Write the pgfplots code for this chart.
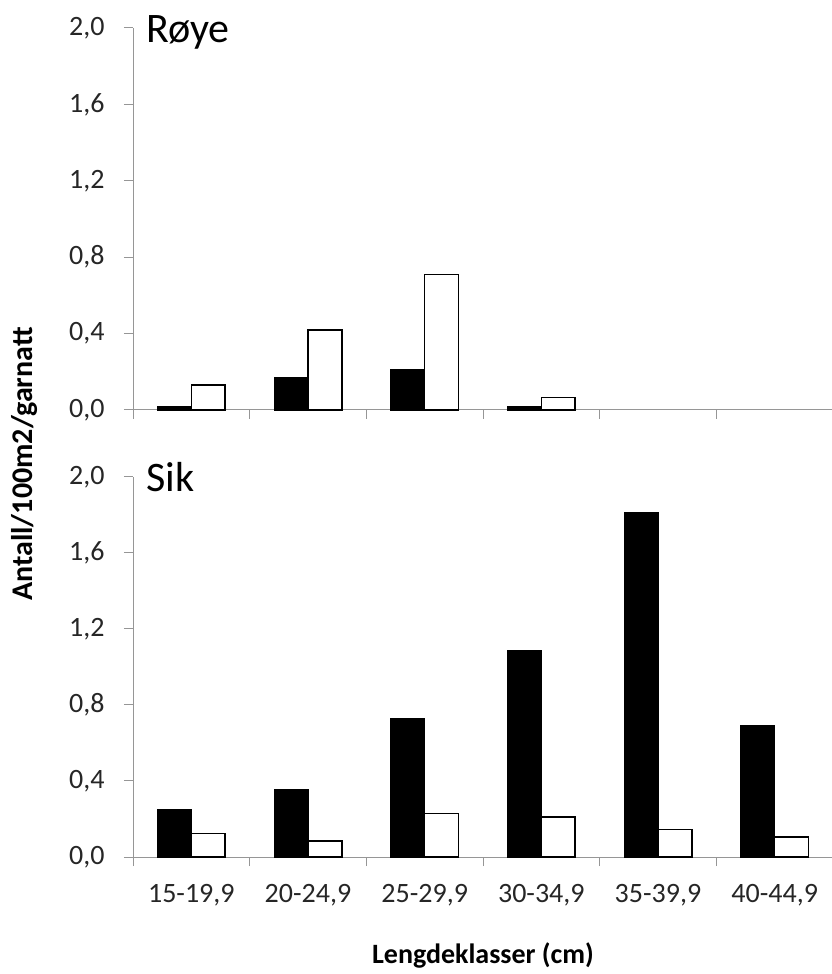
\documentclass[border=0pt]{standalone}
\usepackage{pgfplots}
\pgfplotsset{compat=1.18}
\usepackage{fontspec}
\setmainfont{Carlito}

\definecolor{axgray}{RGB}{150,150,150}

\pgfplotsset{
  panel/.style={
    width=700pt, scale only axis,
    xmin=-0.5, xmax=5.5, ymin=0, ymax=2,
    axis x line*=bottom, axis y line*=left,
    axis line style={axgray, line width=1pt, -},
    tick align=outside, major tick length=9pt,
    tick style={axgray, line width=1pt},
    ytick={0,0.4,0.8,1.2,1.6,2.0},
    xtick={-0.5,0.5,1.5,2.5,3.5,4.5,5.5}, xticklabels={},
    yticklabel style={font=\fontsize{28}{30}\selectfont, text=black!85, xshift=-16pt},
    /pgf/number format/.cd, use comma, fixed, fixed zerofill, precision=1, assume math mode=true,
    /pgfplots/.cd,
    ybar, bar width=0.29, clip=false,
  },
  blk/.style={fill=black, draw=black, line width=0.8pt, bar shift=-0.145},
  wht/.style={fill=white, draw=black, line width=1.5pt, bar shift=0.145},
}

\begin{document}
\begin{tikzpicture}
\path[use as bounding box] (-133pt,-117pt) rectangle (699pt,857pt);

% Sik (bottom)
\begin{axis}[panel, name=bot, height=380pt,
  extra x ticks={0,1,2,3,4,5},
  extra x tick labels={\mbox{15-19,9}, \mbox{20-24,9}, \mbox{25-29,9}, \mbox{30-34,9}, \mbox{35-39,9}, \mbox{40-44,9}},
  extra x tick style={major tick length=0pt,
    xticklabel style={font=\fontsize{28}{30}\selectfont, text=black!85, yshift=-24pt}},
]
\addplot[blk] coordinates {(0,0.25) (1,0.355) (2,0.73) (3,1.085) (4,1.815) (5,0.69)};
\addplot[wht] coordinates {(0,0.125) (1,0.085) (2,0.23) (3,0.21) (4,0.145) (5,0.105)};
\node[anchor=base west, font=\fontsize{42}{44}\selectfont] at ([xshift=10pt,yshift=-15pt]rel axis cs:0,1) {Sik};
\end{axis}

% Roye (top)
\begin{axis}[panel, name=top, height=382pt, at={(0pt,447pt)}]
\addplot[blk] coordinates {(0,0.02) (1,0.17) (2,0.21) (3,0.02)};
\addplot[wht] coordinates {(0,0.13) (1,0.42) (2,0.71) (3,0.065)};
\node[anchor=base west, font=\fontsize{42}{44}\selectfont] at ([xshift=10pt,yshift=-15pt]rel axis cs:0,1) {Røye};
\end{axis}

\node[rotate=90, font=\bfseries\fontsize{30}{32}\selectfont] at ([xshift=-108pt,yshift=393pt]bot.south west) {Antall/100m2/garnatt};
\node[font=\bfseries\fontsize{28}{30}\selectfont] at ([yshift=-98pt]bot.south) {Lengdeklasser (cm)};
\end{tikzpicture}
\end{document}
